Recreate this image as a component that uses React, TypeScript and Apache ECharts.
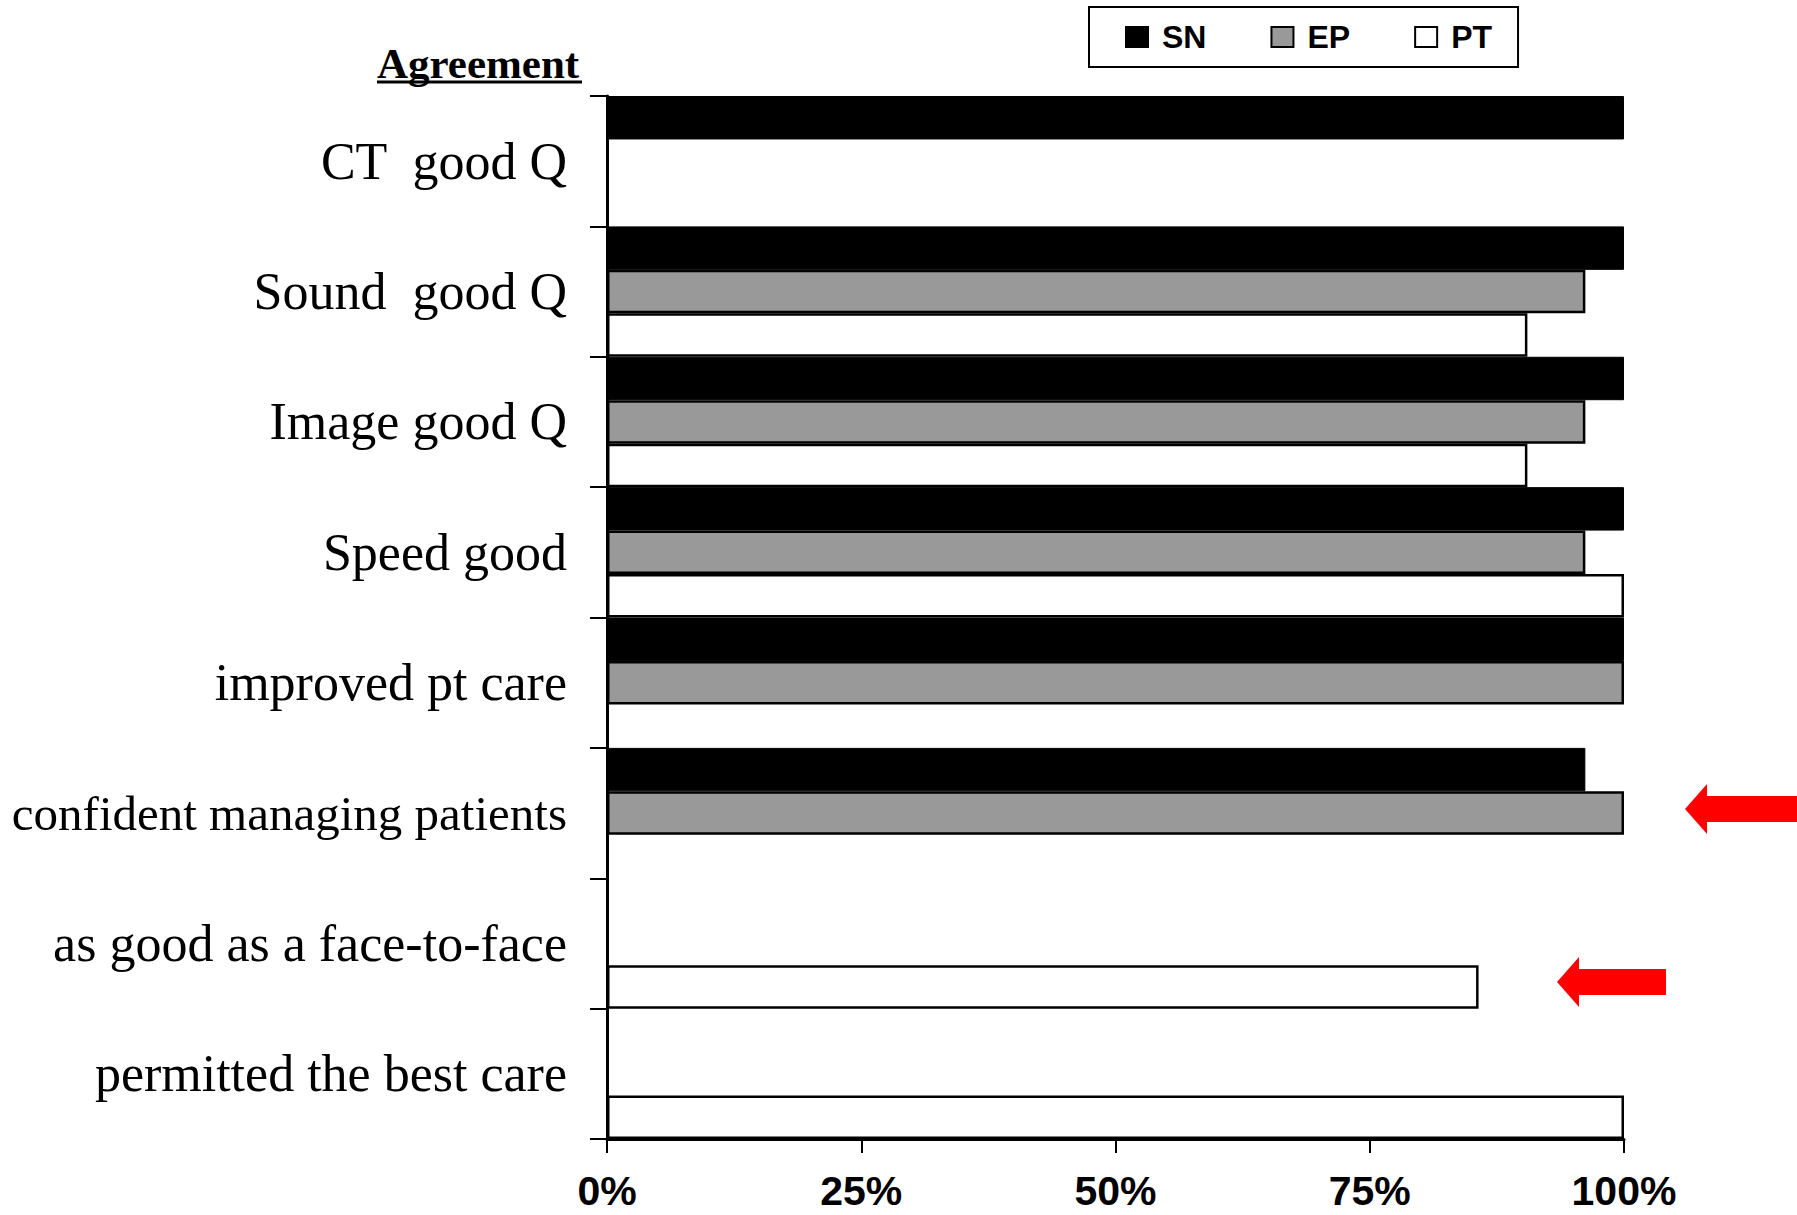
import React, { useEffect, useRef } from "react";
import * as echarts from "echarts";

const categories = [
  "CT  good Q",
  "Sound  good Q",
  "Image good Q",
  "Speed good",
  "improved pt care",
  "confident managing patients",
  "as good as a face-to-face",
  "permitted the best care",
];

const seriesNames = ["SN", "EP", "PT"];

const snValues = [100, 100, 100, 100, 100, 96.2, null, null];
const epValues = [null, 96.2, 96.2, 96.2, 100, 100, null, null];
const ptValues = [null, 90.5, 90.5, 100, null, null, 85.7, 100];

const xTicks = [0, 25, 50, 75, 100];

export default function App() {
  const ref = useRef<HTMLDivElement>(null);

  useEffect(() => {
    if (!ref.current) return;
    const chart = echarts.init(ref.current, null, { renderer: "svg" });

    const barBase = {
      type: "bar",
      barGap: "0%",
      barCategoryGap: "0%",
    };

    chart.setOption({
      animation: false,
      backgroundColor: "#ffffff",
      grid: { left: 607, right: 173, top: 96, bottom: 76, containLabel: false },
      legend: {
        data: seriesNames,
        left: 1089,
        top: 7,
        orient: "horizontal",
        icon: "rect",
        itemWidth: 22,
        itemHeight: 20,
        itemGap: 64,
        padding: [12, 26, 12, 36],
        borderColor: "#000",
        borderWidth: 2,
        textStyle: {
          fontFamily: "Liberation Sans",
          fontWeight: "bold",
          fontSize: 32,
          lineHeight: 36,
          color: "#000",
          padding: [0, 0, 0, 9],
        },
      },
      xAxis: {
        type: "value",
        min: xTicks[0],
        max: xTicks[xTicks.length - 1],
        interval: 25,
        axisLine: { show: true, lineStyle: { color: "#000", width: 3 } },
        axisTick: { show: true, length: 14, lineStyle: { color: "#000", width: 2 } },
        splitLine: { show: false },
        axisLabel: {
          formatter: "{value}%",
          fontFamily: "Liberation Sans",
          fontWeight: "bold",
          fontSize: 41,
          lineHeight: 40,
          color: "#000",
          margin: 32,
        },
      },
      yAxis: {
        type: "category",
        data: categories,
        inverse: true,
        axisLine: { show: true, lineStyle: { color: "#000", width: 3 } },
        axisTick: { show: true, length: 17, lineStyle: { color: "#000", width: 2 } },
        axisLabel: {
          fontFamily: "Liberation Serif",
          fontSize: 52,
          color: "#000",
          margin: 40,
          formatter: (v: string) => (v.length > 25 ? "{s|" + v + "}" : v),
          rich: {
            s: { fontFamily: "Liberation Serif", fontSize: 49, color: "#000" },
          },
        },
      },
      series: [
        {
          ...barBase,
          name: seriesNames[0],
          data: snValues,
          itemStyle: { color: "#000000", borderColor: "#000", borderWidth: 1 },
        },
        {
          ...barBase,
          name: seriesNames[1],
          data: epValues,
          itemStyle: { color: "#999999", borderColor: "#000", borderWidth: 2.5 },
        },
        {
          ...barBase,
          name: seriesNames[2],
          data: ptValues,
          itemStyle: { color: "#ffffff", borderColor: "#000", borderWidth: 2.5 },
        },
      ],
      graphic: [
        {
          type: "text",
          x: 377,
          y: 63,
          style: {
            text: "Agreement",
            font: "bold 43px 'Liberation Serif'",
            fill: "#000",
            textVerticalAlign: "middle",
            verticalAlign: "middle",
          },
        },
        {
          type: "line",
          shape: { x1: 377, y1: 82, x2: 582, y2: 82 },
          style: { stroke: "#000", lineWidth: 3 },
        },
        {
          type: "polygon",
          shape: {
            points: [
              [1685, 809],
              [1707, 784],
              [1707, 796],
              [1797, 796],
              [1797, 822],
              [1707, 822],
              [1707, 834],
            ],
          },
          style: { fill: "#ff0000" },
        },
        {
          type: "polygon",
          shape: {
            points: [
              [1557, 982],
              [1579, 957],
              [1579, 969],
              [1666, 969],
              [1666, 995],
              [1579, 995],
              [1579, 1007],
            ],
          },
          style: { fill: "#ff0000" },
        },
      ],
    });

    return () => chart.dispose();
  }, []);

  return (
    <div
      ref={ref}
      style={{ position: "fixed", left: 0, top: 0, width: 1797, height: 1215, background: "#fff" }}
    />
  );
}
